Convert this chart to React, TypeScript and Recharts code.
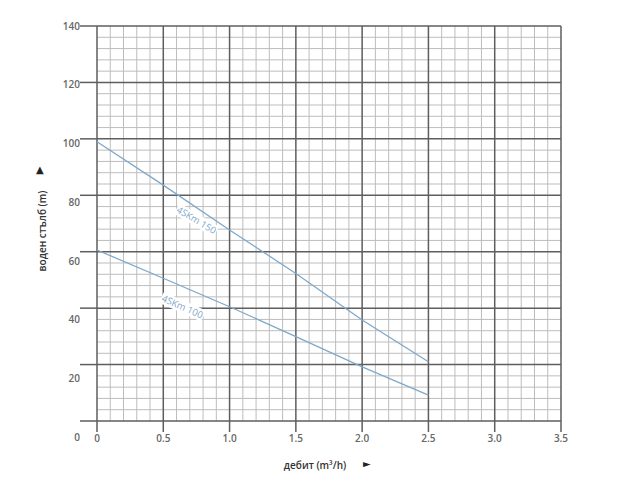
import { LineChart, Line, XAxis, YAxis, ReferenceLine, ReferenceDot } from "recharts"

// flow (m³/h) and head (m)
const flow = [0, 0.5, 1.0, 1.5, 2.0, 2.5]
const head150 = [99.0, 83.6, 67.7, 52.3, 35.8, 21.0]
const head100 = [60.6, 50.6, 40.5, 29.9, 19.2, 9.2]

const xTicks = [0, 0.5, 1.0, 1.5, 2.0, 2.5, 3.0, 3.5]
const yTicks = [0, 20, 40, 60, 80, 100, 120, 140]

// minor grid: 0.1 m³/h and 4 m steps
const xMinor = Array.from({ length: 34 }, (_, i) => i + 1)
  .filter((n) => n % 5 !== 0)
  .map((n) => n / 10)
const yMinor = Array.from({ length: 34 }, (_, i) => (i + 1) * 4).filter((v) => v % 20 !== 0)

const curveLabels = [
  { name: "4SKm 150", x: 0.75, y: 71.2, angle: 31 },
  { name: "4SKm 100", x: 0.645, y: 40.5, angle: 24 },
]

const data = flow.map((q, i) => ({ q, a150: head150[i], a100: head100[i] }))

const major = "#5e5e5e"
const minor = "#bdbdbd"
const blue = "#7fa8c9"
const font = "'Open Sans', sans-serif"

function YTick(props: any) {
  const { x, y, payload } = props
  // labels on the scan drift downward relative to the grid
  const drift = ((140 - payload.value) / 140) * 16.5
  return (
    <text x={x} y={y + drift} dy="0.35em" textAnchor="end" fontSize={10} fontWeight={600} fill="#666" fontFamily={font}>
      {payload.value}
    </text>
  )
}

function CurveLabel(text: string, angle: number) {
  return (props: any) => (
    <g transform={`translate(${props.cx},${props.cy}) rotate(${angle})`}>
      <rect x={-23} y={-6} width={46} height={12} fill="#fff" />
      <text x={0} y={0} dy="0.35em" textAnchor="middle" fontSize={9.5} fill={blue} fontFamily={font}>
        {text}
      </text>
    </g>
  )
}

export default function App() {
  return (
    <div style={{ position: "relative", width: 632, height: 465 }}>
      <LineChart width={632} height={465} data={data} margin={{ top: 18, right: 79, left: 0, bottom: 22 }}>
        {xMinor.map((v) => (
          <ReferenceLine key={"xm" + v} x={v} stroke={minor} strokeWidth={1} />
        ))}
        {yMinor.map((v) => (
          <ReferenceLine key={"ym" + v} y={v} stroke={minor} strokeWidth={1} />
        ))}
        {xTicks.map((v) => (
          <ReferenceLine key={"xM" + v} x={v} stroke={major} strokeWidth={1.5} />
        ))}
        {yTicks.map((v) => (
          <ReferenceLine key={"yM" + v} y={v} stroke={major} strokeWidth={1.5} />
        ))}
        <XAxis
          type="number"
          dataKey="q"
          domain={[0, 3.5]}
          ticks={xTicks}
          height={30}
          axisLine={false}
          tickSize={11}
          tickMargin={3}
          tickLine={{ stroke: major, strokeWidth: 1.5 }}
          tick={{ fontSize: 10, fontWeight: 600, fill: "#666", fontFamily: font }}
          tickFormatter={(v: number) => (v === 0 ? "0" : v.toFixed(1))}
        />
        <YAxis
          type="number"
          domain={[0, 140]}
          ticks={yTicks}
          width={89}
          axisLine={false}
          tickSize={17}
          tickMargin={0}
          tickLine={{ stroke: major, strokeWidth: 1.5 }}
          tick={<YTick />}
        />
        <Line dataKey="a150" stroke={blue} strokeWidth={1.3} dot={false} isAnimationActive={false} />
        <Line dataKey="a100" stroke={blue} strokeWidth={1.3} dot={false} isAnimationActive={false} />
        {curveLabels.map((c) => (
          <ReferenceDot key={c.name} x={c.x} y={c.y} r={0} shape={CurveLabel(c.name, c.angle)} />
        ))}
      </LineChart>
      <div
        style={{
          position: "absolute",
          left: 34,
          top: 223,
          transform: "translate(-50%, -50%) rotate(-90deg)",
          whiteSpace: "nowrap",
          fontFamily: font,
          fontSize: 10,
          fontWeight: 600,
          color: "#333",
        }}
      >
        воден стълб (m)
      </div>
      <div style={{ position: "absolute", left: 28, top: 156, fontSize: 10, color: "#222", fontFamily: "DejaVu Sans" }}>▲</div>
      <div
        style={{
          position: "absolute",
          left: 307,
          top: 457,
          transform: "translate(-50%, -50%)",
          whiteSpace: "nowrap",
          fontFamily: font,
          fontSize: 10,
          fontWeight: 600,
          color: "#333",
        }}
      >
        дебит (m³/h)
      </div>
      <div style={{ position: "absolute", left: 355, top: 450, fontSize: 10, color: "#222", fontFamily: "DejaVu Sans" }}>►</div>
    </div>
  )
}
